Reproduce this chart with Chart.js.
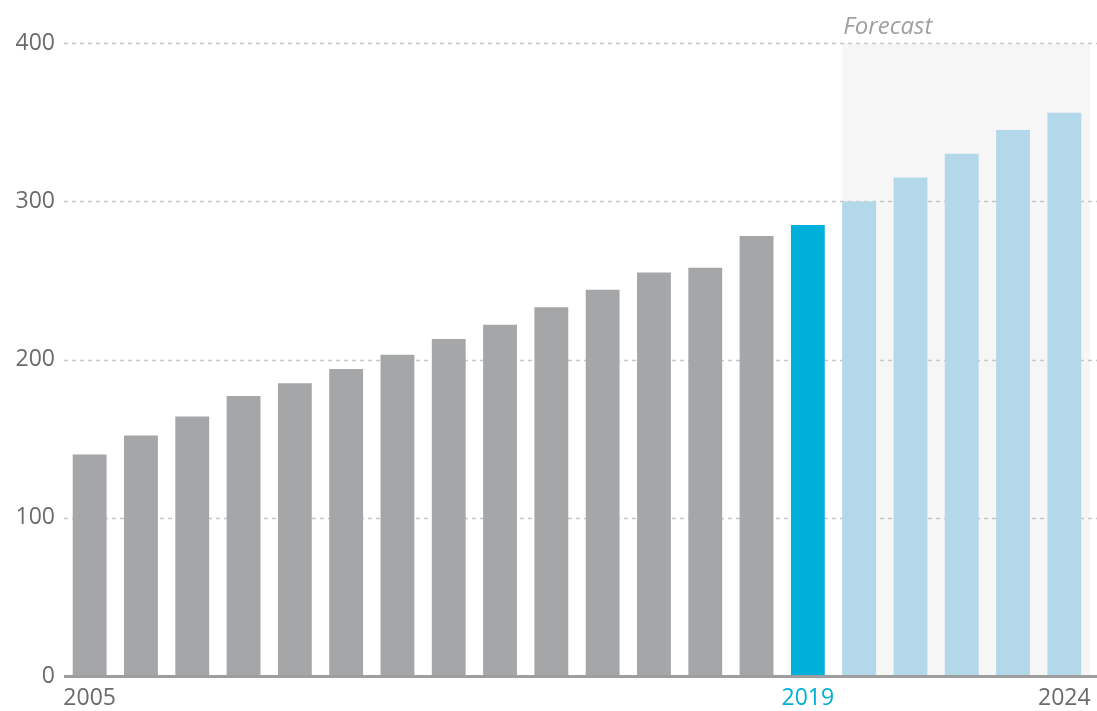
<!DOCTYPE html>
<html>
<head>
<meta charset="utf-8">
<script src="https://cdn.jsdelivr.net/npm/chart.js@4/dist/chart.umd.min.js"></script>
<style>
  html, body { margin: 0; padding: 0; background: #fff; }
  #wrap { width: 1097px; height: 711px; }
</style>
</head>
<body>
<div id="wrap"><canvas id="c" width="1097" height="711"></canvas></div>
<script>
const years = ['2005','2006','2007','2008','2009','2010','2011','2012','2013','2014',
               '2015','2016','2017','2018','2019','2020','2021','2022','2023','2024'];
const values = [140, 152, 164, 177, 185, 194, 203, 213, 222, 233,
                244, 255, 258, 278, 285, 300, 315, 330, 345, 356];
const shownYears = ['2005', '2019', '2024'];
const currentYear = '2019';
const forecastStart = '2020';
const yTicks = [0, 100, 200, 300, 400];

const GREY = '#a5a6a8';
const CURRENT = '#00b0da';
const FORECAST = '#b3d8ea';
const TEXT = '#6b6b6b';
const FONT = '"Open Sans", "Noto Sans", sans-serif';

const barColors = years.map(y => {
  if (y === currentYear) return CURRENT;
  if (+y >= +forecastStart) return FORECAST;
  return GREY;
});

// shaded forecast box, dashed grid and the base line
const backdrop = {
  id: 'backdrop',
  beforeDatasetsDraw(chart) {
    const { ctx, chartArea, scales } = chart;
    const meta = chart.getDatasetMeta(0);
    const first = meta.data[years.indexOf(forecastStart)];
    const top = scales.y.getPixelForValue(400);
    const bottom = scales.y.getPixelForValue(0);
    const left = first.x - first.width / 2;

    ctx.save();
    ctx.fillStyle = '#f6f6f6';
    ctx.fillRect(left, top, chartArea.right - left, bottom - top);

    ctx.strokeStyle = '#c6c6c6';
    ctx.lineWidth = 1.5;
    ctx.setLineDash([4, 4]);
    yTicks.slice(1).forEach(v => {
      const y = Math.round(scales.y.getPixelForValue(v)) + 0.5;
      ctx.beginPath();
      ctx.moveTo(chartArea.left, y);
      ctx.lineTo(chart.width, y);
      ctx.stroke();
    });

    ctx.font = 'italic 24px ' + FONT;
    ctx.fillStyle = '#a0a0a0';
    ctx.textBaseline = 'bottom';
    ctx.textAlign = 'left';
    ctx.fillText('Forecast', left + 1, top - 4);
    ctx.restore();
  },
  afterDatasetsDraw(chart) {
    const { ctx, chartArea, scales } = chart;
    const y = scales.y.getPixelForValue(0);
    ctx.save();
    ctx.strokeStyle = '#9e9e9e';
    ctx.lineWidth = 3;
    ctx.beginPath();
    ctx.moveTo(chartArea.left, y + 0.5);
    ctx.lineTo(chart.width, y + 0.5);
    ctx.stroke();
    ctx.restore();
  }
};

new Chart(document.getElementById('c'), {
  type: 'bar',
  data: {
    labels: years,
    datasets: [{
      data: values,
      backgroundColor: barColors,
      barPercentage: 0.66,
      categoryPercentage: 1.0
    }]
  },
  options: {
    responsive: false,
    animation: false,
    layout: { padding: { top: 43, right: 7, left: 0, bottom: 0 } },
    plugins: { legend: { display: false }, tooltip: { enabled: false } },
    scales: {
      x: {
        grid: { display: false, drawTicks: false },
        border: { display: false },
        afterFit(s) { s.height = 35; s.paddingLeft = 0; s.paddingRight = 0; },
        ticks: {
          autoSkip: false,
          maxRotation: 0,
          padding: 9,
          font: { family: FONT, size: 23 },
          color: ctx => years[ctx.index] === currentYear ? CURRENT : TEXT,
          callback: (v, i) => shownYears.includes(years[i]) ? years[i] : ''
        }
      },
      y: {
        min: 0,
        max: 400,
        grid: { display: false, drawTicks: false },
        border: { display: false },
        afterFit(s) { s.width = 64; },
        afterBuildTicks(s) { s.ticks = yTicks.map(v => ({ value: v })); },
        ticks: {
          padding: 9,
          font: { family: FONT, size: 23 },
          color: TEXT
        }
      }
    }
  },
  plugins: [backdrop]
});
</script>
</body>
</html>
